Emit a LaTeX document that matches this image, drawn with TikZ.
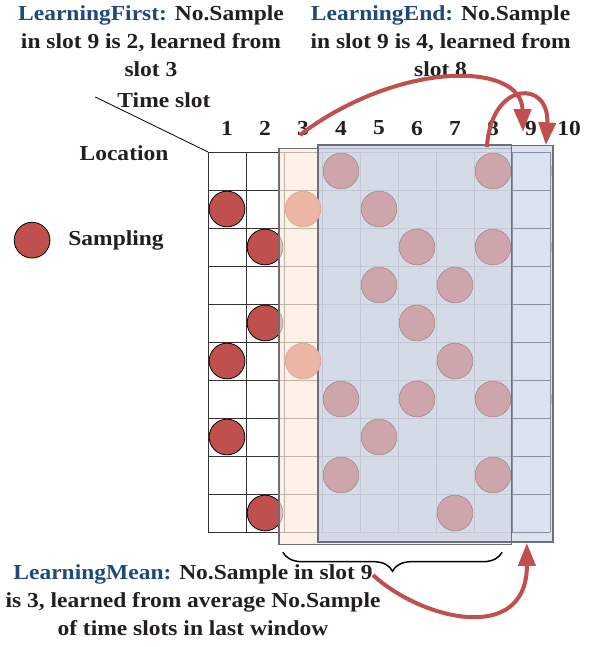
\documentclass[tikz,border=0pt]{standalone}
\usepackage{fontspec}
\setmainfont{Liberation Serif}[FakeStretch=1.1]
\usepackage{tikz}
\usetikzlibrary{positioning,arrows.meta,decorations.pathreplacing}
\definecolor{sampred}{RGB}{192,80,77}
\definecolor{headblue}{RGB}{31,73,125}
\definecolor{txtblack}{RGB}{35,31,32}
\definecolor{winblue}{RGB}{195,208,230}
\definecolor{winorange}{RGB}{252,235,219}
\definecolor{winedge}{RGB}{110,110,120}
\definecolor{pinkb}{RGB}{205,165,170}
\definecolor{pinko}{RGB}{236,182,165}
\newcommand{\bigbf}{\fontsize{16}{21.3}\selectfont\bfseries}

\begin{document}
\begin{tikzpicture}[
  >=Stealth,
  every node/.style={font=\bigbf,text=txtblack},
  spot/.style={circle,draw=black,line width=.6pt,fill=sampred,
               minimum size=.94cm,inner sep=0pt},
  spotb/.style={spot,draw=pinkb!80!black,fill=pinkb,line width=.4pt},
  spoto/.style={spot,draw=pinko!90!black,fill=pinko,line width=.4pt},
  flow/.style={draw=sampred,line width=3pt,
               -{Triangle[length=6mm,width=4.5mm]}},
  win/.style={draw=winedge,line width=1pt,fill opacity=.7}
]
\useasboundingbox (-5.474,4.0) rectangle (10.421,-13.026);

% 格子
\draw[line width=.7pt,black!80] (0,0) grid (9,-10);

% サンプリング (slot 1, 2)
\foreach \c/\rows in {1/{2,6,8},2/{3,5,10}}
  \foreach \r in \rows
    \node[spot] (s\c-\r) at (\c-.5,-\r+.5) {};

% 窓
\filldraw[win,fill=winorange] (1.87,.1) rectangle (7.99,-10.32);
\filldraw[win,fill=winblue] (2.89,.18) rectangle (7.99,-10.26);
\begin{scope}
  \clip (9,.2) rectangle (9.08,-10.3);
  \foreach \r in {1,3,7}
    \node[spotb] (s10-\r) at (9.5,-\r+.5) {};
\end{scope}
\filldraw[win,fill=winblue,fill opacity=.6] (7.99,.17) rectangle (9.08,-10.26);

% 窓の中のサンプリング
\foreach \r in {2,6}
  \node[spoto] (s3-\r) at (2.5,-\r+.5) {};
\foreach \c/\rows in {4/{1,7,9},5/{2,4,8},6/{3,5,7},7/{4,6,10},8/{1,3,7,9}}
  \foreach \r in \rows
    \node[spotb] (s\c-\r) at (\c-.5,-\r+.5) {};

% 軸ラベル
\foreach \c in {1,...,10}
  \node (t\c) at (\c-.5,.63) {\c};
\coordinate (corner) at (0,0);
\coordinate (diag) at (-2.97,1.45);
\draw[line width=.6pt] (diag) -- (corner);
\node (timeslot) at (-1.16,1.37) {Time slot};
\node (location) at (-2.21,-.03) {Location};

% 凡例
\node[spot] (legend) at (-4.63,-2.32) {};
\node[right=.35cm of legend] (sampling) {Sampling};

% 説明
\node[anchor=north,align=center,inner sep=0pt] (first) at (-1.5,3.87)
  {\textcolor{headblue}{LearningFirst:} No.Sample\\
   in slot 9 is 2, learned from\\slot 3};
\node[anchor=north,align=center,inner sep=0pt] (last) at (6.12,3.87)
  {\textcolor{headblue}{LearningEnd:} No.Sample\\
   in slot 9 is 4, learned from\\slot 8};
\node[anchor=north,align=center,inner sep=0pt] (mean) at (-.395,-10.84)
  {\textcolor{headblue}{LearningMean:} No.Sample in slot 9\\
   is 3, learned from average No.Sample\\of time slots in last window};

% 矢印
\coordinate (a1s) at (2.42,.45);
\coordinate (a1e) at (8.29,.53);
\coordinate (a2s) at (7.34,.13);
\coordinate (a2e) at (8.89,.18);
\coordinate (a3s) at (4.34,-11.13);
\coordinate (a3e) at (8.39,-10.29);
\draw[flow] (a1s) .. controls (5.0,2.4) and (8.25,2.4) .. (a1e);
\draw[flow] (a2s) .. controls (7.45,1.9) and (9.0,1.9) .. (a2e);
\draw[flow] (a3s) .. controls (5.6,-12.3) and (8.4,-13.0) .. (a3e);

\draw[decorate,decoration={brace,mirror,amplitude=.5cm},line width=1.1pt]
  (1.97,-10.53) -- (7.74,-10.53);

\end{tikzpicture}
\end{document}
